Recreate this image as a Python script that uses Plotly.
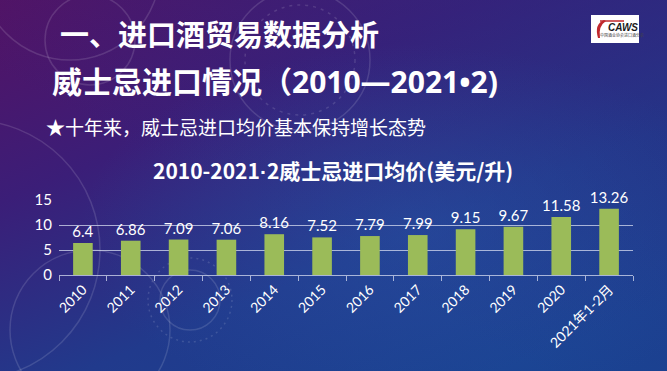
import base64
import plotly.graph_objects as go

# ---------------- data ----------------
categories = ["2010", "2011", "2012", "2013", "2014", "2015", "2016",
              "2017", "2018", "2019", "2020", "2021年1-2月"]
avg_price = [6.4, 6.86, 7.09, 7.06, 8.16, 7.52, 7.79, 7.99, 9.15, 9.67, 11.58, 13.26]
y_ticks = [0, 5, 10, 15]

title_main = "一、进口酒贸易数据分析"
title_sub = "威士忌进口情况（2010—2021•2)"
bullet = "★十年来，威士忌进口均价基本保持增长态势"
chart_title = "2010-2021<span style='font-family:Liberation Sans'>·</span>2威士忌进口均价(美元/升)"

# ---------------- layout geometry ----------------
W, H = 667, 371
ML, MR, MT, MB = 59, 34, 200, 96
PW, PH = W - ML - MR, H - MT - MB


def px(x):
    return (x - ML) / PW


def py(y):
    return (H - MB - y) / PH


# background gradient as svg
svg = f'''<svg xmlns="http://www.w3.org/2000/svg" width="{W}" height="{H}" viewBox="0 0 {W} {H}" preserveAspectRatio="none">
<defs>
<linearGradient id="g" x1="0" y1="0" x2="0.75" y2="1">
<stop offset="0" stop-color="#541264"/>
<stop offset="0.35" stop-color="#3b1e78"/>
<stop offset="0.7" stop-color="#213a8c"/>
<stop offset="1" stop-color="#1a4392"/>
</linearGradient>
<radialGradient id="r" cx="0.62" cy="0.62" r="0.5">
<stop offset="0" stop-color="#2a55a8" stop-opacity="0.45"/>
<stop offset="1" stop-color="#2a55a8" stop-opacity="0"/>
</radialGradient>
<linearGradient id="tr" x1="1" y1="0" x2="0.4" y2="0.6">
<stop offset="0" stop-color="#2a2a80" stop-opacity="0.5"/>
<stop offset="1" stop-color="#2a2a80" stop-opacity="0"/>
</linearGradient>
</defs>
<rect width="{W}" height="{H}" fill="url(#g)"/>
<rect width="{W}" height="{H}" fill="url(#tr)"/>
<rect width="{W}" height="{H}" fill="url(#r)"/>
<g fill="none" stroke="#ffffff" stroke-opacity="0.13" stroke-width="1.5">
<circle cx="70" cy="-30" r="90"/>
<circle cx="300" cy="60" r="70"/>
<circle cx="300" cy="60" r="55" stroke-dasharray="3 5"/>
<circle cx="-30" cy="250" r="130"/>
<circle cx="90" cy="330" r="80"/>
<circle cx="190" cy="300" r="30"/>
<circle cx="190" cy="300" r="42" stroke-dasharray="2 4"/>
<circle cx="90" cy="40" r="45"/>
</g>
</svg>'''
bg_src = "data:image/svg+xml;base64," + base64.b64encode(svg.encode("utf-8")).decode("ascii")

fig = go.Figure()
fig.add_trace(go.Bar(
    x=categories,
    y=avg_price,
    marker=dict(color="#9BBB59", line=dict(width=0)),
    text=[str(v) for v in avg_price],
    textposition="outside",
    constraintext="none",
    textfont=dict(color="#ffffff", size=15, family="Lato, Noto Sans CJK SC"),
    cliponaxis=False,
    hoverinfo="x+y",
))

grid_col = "rgba(215,220,240,0.75)"
fig.update_layout(
    width=W, height=H,
    margin=dict(l=ML, r=MR, t=MT, b=MB, pad=0),
    paper_bgcolor="#2a2a80",
    plot_bgcolor="rgba(0,0,0,0)",
    showlegend=False,
    bargap=0.59,
    font=dict(family="Noto Sans CJK SC", color="#ffffff"),
    xaxis=dict(
        type="category",
        tickangle=-45,
        tickson="boundaries",
        ticks="outside",
        ticklen=5,
        tickcolor=grid_col,
        showline=True,
        linecolor=grid_col,
        linewidth=1,
        showgrid=False,
        tickfont=dict(color="#ffffff", size=14, family="Lato, Noto Sans CJK SC"),
        fixedrange=True,
    ),
    yaxis=dict(
        range=[0, 15],
        tickvals=y_ticks,
        showgrid=True,
        gridcolor=grid_col,
        gridwidth=1,
        zeroline=False,
        showline=False,
        ticks="",
        tickfont=dict(color="#ffffff", size=15, family="Lato, Noto Sans CJK SC"),
        ticklabelstandoff=6,
        fixedrange=True,
    ),
    images=[dict(
        source=bg_src, xref="paper", yref="paper",
        x=px(0), y=py(0), sizex=px(W) - px(0), sizey=py(0) - py(H),
        xanchor="left", yanchor="top", sizing="stretch", layer="below",
    )],
)

# logo
fig.add_shape(type="rect", xref="paper", yref="paper",
              x0=px(591), x1=px(639), y0=py(43), y1=py(15),
              fillcolor="#ffffff", line=dict(width=0), layer="above")
fig.add_shape(type="path", xref="paper", yref="paper",
              path=f"M {px(604)},{py(20)} Q {px(594)},{py(24)} {px(598)},{py(38)} L {px(600)},{py(38)} Q {px(598)},{py(26)} {px(606)},{py(21)} Z",
              fillcolor="#c0282d", line=dict(width=0), layer="above")
fig.add_shape(type="line", xref="paper", yref="paper",
              x0=px(600), x1=px(624), y0=py(21), y1=py(21),
              line=dict(color="#c0282d", width=1.5), layer="above")

annotations = [
    dict(text=f"<b>{title_main}</b>", x=px(58), y=py(33), xanchor="left", yanchor="middle",
         font=dict(size=29, color="#ffffff", family="Noto Sans CJK SC")),
    dict(text=f"<b>{title_sub}</b>", x=px(50), y=py(81), xanchor="left", yanchor="middle",
         font=dict(size=30, color="#ffffff", family="Open Sans, Noto Sans CJK SC")),
    dict(text=bullet, x=px(44), y=py(126), xanchor="left", yanchor="middle",
         font=dict(size=19, color="#ffffff", family="Noto Sans CJK SC")),
    dict(text=f"<b>{chart_title}</b>", x=px(333), y=py(170), xanchor="center", yanchor="middle",
         font=dict(size=21, color="#ffffff", family="Noto Sans CJK SC")),
    dict(text="<b><i>CAWS</i></b>", x=px(623), y=py(27), xanchor="center", yanchor="middle",
         font=dict(size=10, color="#1a1a1a", family="Liberation Sans")),
    dict(text="中国酒业协会进口酒分会", x=px(622), y=py(35), xanchor="center", yanchor="middle",
         font=dict(size=4, color="#444444", family="Noto Sans CJK SC")),
]
for a in annotations:
    a.update(xref="paper", yref="paper", showarrow=False)
fig.update_layout(annotations=annotations)

fig.write_html(
    "out.html",
    config={"displayModeBar": False},
    post_script="document.body.style.margin='0';document.body.style.overflow='hidden';",
)
